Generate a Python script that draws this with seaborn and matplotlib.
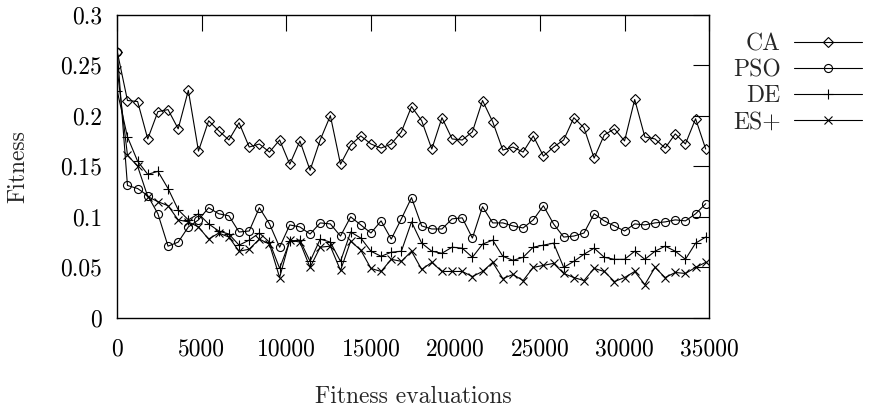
import numpy as np
import pandas as pd
import matplotlib
matplotlib.use("Agg")
import matplotlib.pyplot as plt
import seaborn as sns

# ---------------- data ----------------
evaluations = [0, 600, 1200, 1800, 2400, 3000, 3600, 4200, 4800, 5400,
               6000, 6600, 7200, 7800, 8400, 9000, 9600, 10200, 10800, 11400,
               12000, 12600, 13200, 13800, 14400, 15000, 15600, 16200, 16800, 17400,
               18000, 18600, 19200, 19800, 20400, 21000, 21600, 22200, 22800, 23400,
               24000, 24600, 25200, 25800, 26400, 27000, 27600, 28200, 28800, 29400,
               30000, 30600, 31200, 31800, 32400, 33000, 33600, 34200, 34800]

ca = [0.263, 0.215, 0.214, 0.177, 0.204, 0.206, 0.187, 0.225, 0.165, 0.195,
      0.185, 0.176, 0.193, 0.169, 0.172, 0.164, 0.176, 0.152, 0.175, 0.146,
      0.176, 0.200, 0.152, 0.171, 0.180, 0.172, 0.168, 0.172, 0.184, 0.209,
      0.195, 0.167, 0.198, 0.177, 0.176, 0.184, 0.215, 0.194, 0.166, 0.169,
      0.164, 0.180, 0.160, 0.169, 0.176, 0.198, 0.188, 0.158, 0.181, 0.187,
      0.175, 0.216, 0.179, 0.177, 0.168, 0.182, 0.172, 0.197, 0.167]

pso = [0.263, 0.131, 0.128, 0.121, 0.103, 0.071, 0.075, 0.090, 0.097, 0.109,
       0.103, 0.101, 0.085, 0.086, 0.109, 0.093, 0.070, 0.092, 0.090, 0.083,
       0.094, 0.093, 0.081, 0.100, 0.092, 0.084, 0.096, 0.078, 0.098, 0.119,
       0.091, 0.088, 0.088, 0.098, 0.099, 0.079, 0.110, 0.094, 0.094, 0.091,
       0.089, 0.097, 0.111, 0.093, 0.080, 0.081, 0.084, 0.103, 0.096, 0.091,
       0.086, 0.093, 0.092, 0.094, 0.095, 0.097, 0.096, 0.103, 0.113]

de = [0.224, 0.179, 0.155, 0.142, 0.145, 0.128, 0.107, 0.097, 0.103, 0.093,
      0.086, 0.083, 0.072, 0.077, 0.084, 0.075, 0.049, 0.076, 0.077, 0.056,
      0.078, 0.075, 0.056, 0.085, 0.079, 0.066, 0.061, 0.065, 0.066, 0.095,
      0.074, 0.066, 0.064, 0.070, 0.069, 0.060, 0.073, 0.077, 0.061, 0.057,
      0.060, 0.070, 0.072, 0.074, 0.050, 0.056, 0.063, 0.069, 0.060, 0.058,
      0.058, 0.066, 0.058, 0.066, 0.071, 0.066, 0.058, 0.074, 0.080]

es = [0.245, 0.161, 0.150, 0.120, 0.115, 0.111, 0.097, 0.095, 0.090, 0.078,
      0.084, 0.080, 0.066, 0.068, 0.078, 0.073, 0.040, 0.077, 0.075, 0.050,
      0.070, 0.071, 0.047, 0.076, 0.067, 0.049, 0.046, 0.058, 0.056, 0.066,
      0.048, 0.055, 0.046, 0.046, 0.046, 0.041, 0.046, 0.055, 0.039, 0.043,
      0.037, 0.050, 0.052, 0.054, 0.044, 0.040, 0.037, 0.049, 0.046, 0.036,
      0.040, 0.046, 0.033, 0.050, 0.040, 0.045, 0.044, 0.050, 0.055]

series_names = ["CA", "PSO", "DE", "ES+"]
x_ticks = [0, 5000, 10000, 15000, 20000, 25000, 30000, 35000]
x_tick_labels = ["0", "5000", "10000", "15000", "20000", "25000", "30000", "35000"]
y_ticks = [0, 0.05, 0.1, 0.15, 0.2, 0.25, 0.3]
y_tick_labels = ["0", "0.05", "0.1", "0.15", "0.2", "0.25", "0.3"]

# ---------------- style ----------------
FS = 17
sns.set_theme(style="white")
plt.rcParams["font.family"] = ["cmr10", "DejaVu Serif"]
plt.rcParams["axes.formatter.use_mathtext"] = True
plt.rcParams["font.size"] = FS
plt.rcParams["axes.unicode_minus"] = False

fig = plt.figure(figsize=(8.69, 4.09), dpi=100)
ax = fig.add_axes([0.135, 0.2225, 0.681, 0.742])

styles = {"CA": ("D", 4.8), "PSO": ("o", 5.8), "DE": ("+", 7.2), "ES+": ("x", 5.8)}
values = {"CA": ca, "PSO": pso, "DE": de, "ES+": es}

for name in series_names:
    m, ms = styles[name]
    sns.lineplot(x=evaluations, y=values[name], ax=ax, color="black",
                 linewidth=0.8, marker=m, markersize=ms, markerfacecolor="none",
                 markeredgecolor="black", markeredgewidth=0.8, legend=False)

ax.set_xlim(0, 35000)
ax.set_ylim(0, 0.3)
ax.set_xticks(x_ticks)
ax.set_xticklabels(x_tick_labels)
ax.set_yticks(y_ticks)
ax.set_yticklabels(y_tick_labels)
ax.tick_params(direction="in", length=11.5, width=0.8, top=True, right=True,
               colors="black", labelsize=FS)
ax.tick_params(axis="x", pad=15)
ax.tick_params(axis="y", pad=11)
for s in ax.spines.values():
    s.set_color("black")
    s.set_linewidth(1.0)

ax.set_xlabel("Fitness evaluations", fontsize=FS, va="center")
ax.xaxis.set_label_coords(0.5, (318 - 397) / 303.5)
ax.set_ylabel("Fitness", fontsize=FS, va="center")
ax.yaxis.set_label_coords((18 - 117.3) / 591.7, 0.5)

handles = list(ax.lines[:4])
ax.legend(handles, series_names, loc="upper right",
          bbox_to_anchor=(862 / 869, (409 - 33) / 409), bbox_transform=fig.transFigure,
          markerfirst=False, frameon=False, handlelength=2.9, handletextpad=0.55,
          labelspacing=0.17, borderaxespad=0, borderpad=0, fontsize=FS)

fig.savefig("out.png", dpi=100)
